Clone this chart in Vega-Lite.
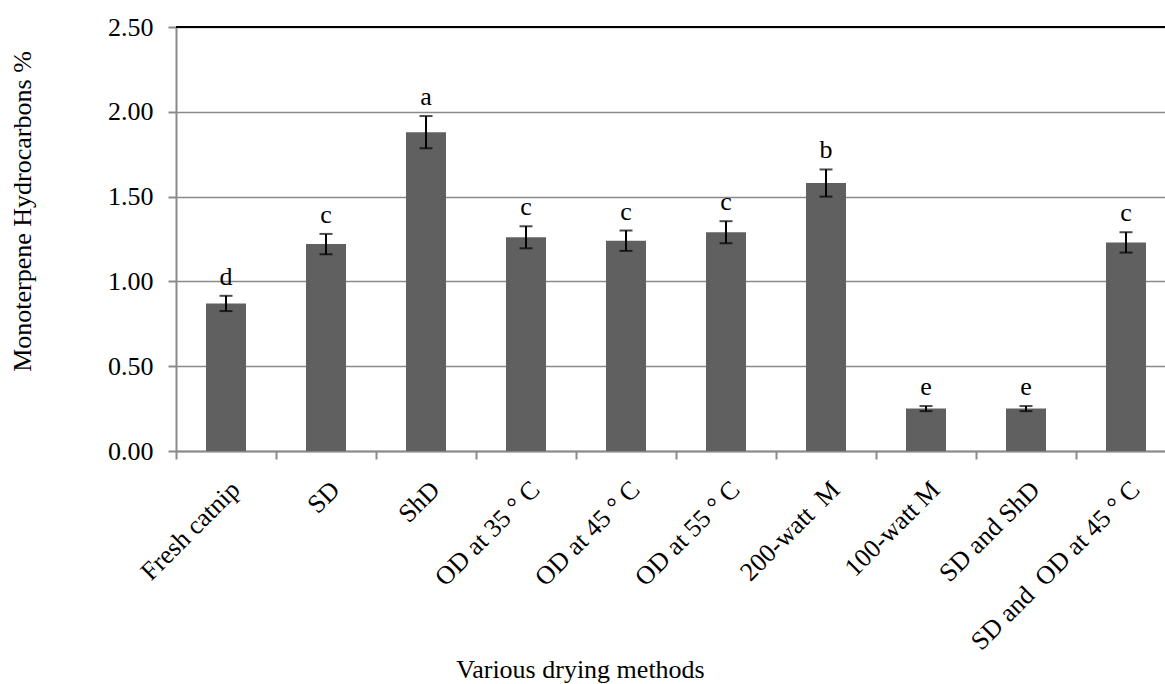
{
  "$schema": "https://vega.github.io/schema/vega-lite/v6.json",
  "width": 989,
  "height": 424,
  "autosize": {"type": "none"},
  "padding": {"left": 176, "top": 27, "right": 0, "bottom": 233},
  "background": "white",
  "config": {
    "view": {"stroke": null},
    "font": "Liberation Serif",
    "axis": {
      "domainColor": "#8a8a8a",
      "domainWidth": 2,
      "tickColor": "#8a8a8a",
      "tickWidth": 2,
      "gridColor": "#8a8a8a",
      "gridWidth": 1.5,
      "labelFont": "Liberation Serif",
      "labelFontSize": 26,
      "labelColor": "black",
      "titleFont": "Liberation Serif",
      "titleFontSize": 26,
      "titleFontWeight": "normal",
      "titleColor": "black"
    }
  },
  "data": {
    "values": [
      {"method": "Fresh catnip", "mean": 0.87, "err": 0.045, "group": "d"},
      {"method": "SD", "mean": 1.22, "err": 0.06, "group": "c"},
      {"method": "ShD", "mean": 1.88, "err": 0.095, "group": "a"},
      {"method": "OD at 35 ° C", "mean": 1.26, "err": 0.065, "group": "c"},
      {"method": "OD at 45 ° C", "mean": 1.24, "err": 0.06, "group": "c"},
      {"method": "OD at 55 ° C", "mean": 1.29, "err": 0.065, "group": "c"},
      {"method": "200-watt \u00a0M", "mean": 1.58, "err": 0.08, "group": "b"},
      {"method": "100-watt M", "mean": 0.25, "err": 0.015, "group": "e"},
      {"method": "SD and ShD", "mean": 0.25, "err": 0.015, "group": "e"},
      {"method": "SD and \u00a0OD at 45 ° C", "mean": 1.23, "err": 0.06, "group": "c"}
    ]
  },
  "layer": [
    {
      "mark": {"type": "bar", "color": "#606060", "width": {"band": 0.4}},
      "encoding": {
        "x": {
          "field": "method",
          "type": "nominal",
          "sort": null,
          "scale": {"range": [0, 1000], "paddingInner": 0, "paddingOuter": 0},
          "axis": {
            "title": "Various drying methods",
            "labelAngle": -45,
            "labelAlign": "right",
            "labelBaseline": "top",
            "labelPadding": 17,
            "labelLimit": 0,
            "tickSize": 8,
            "tickBand": "extent",
            "grid": false,
            "titleX": 404,
            "titleY": 226,
            "titleAlign": "center",
            "titleBaseline": "alphabetic"
          }
        },
        "y": {
          "field": "mean",
          "type": "quantitative",
          "scale": {"domain": [0, 2.5], "nice": false},
          "axis": {
            "values": [0, 0.5, 1, 1.5, 2, 2.5],
            "format": ".2f",
            "tickSize": 8,
            "labelPadding": 15,
            "grid": true,
            "title": "Monoterpene Hydrocarbons %",
            "titleAngle": 270,
            "titleX": -146,
            "titleY": 184,
            "titleAlign": "center",
            "titleBaseline": "alphabetic"
          }
        }
      }
    },
    {
      "mark": {
        "type": "errorbar",
        "color": "black",
        "thickness": 2,
        "ticks": {"size": 13, "thickness": 2, "color": "black"},
        "rule": {"strokeWidth": 2, "color": "black"}
      },
      "encoding": {
        "x": {"field": "method", "type": "nominal", "sort": null},
        "y": {"field": "mean", "type": "quantitative", "title": "Monoterpene Hydrocarbons %"},
        "yError": {"field": "err"}
      }
    },
    {
      "transform": [{"calculate": "datum.mean + datum.err", "as": "top"}],
      "mark": {"type": "text", "font": "Liberation Serif", "fontSize": 26, "color": "black", "baseline": "alphabetic", "dy": -11},
      "encoding": {
        "x": {"field": "method", "type": "nominal", "sort": null},
        "y": {"field": "top", "type": "quantitative", "title": "Monoterpene Hydrocarbons %"},
        "text": {"field": "group"}
      }
    },
    {
      "mark": {"type": "rule", "color": "black", "strokeWidth": 2},
      "encoding": {"y": {"datum": 2.5}}
    }
  ]
}
